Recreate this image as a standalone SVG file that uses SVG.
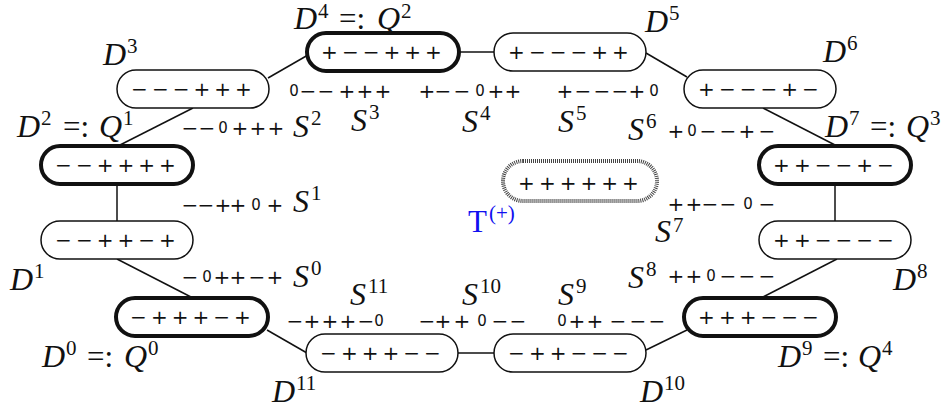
<svg xmlns="http://www.w3.org/2000/svg" width="946" height="412" viewBox="0 0 946 412">
<style>
.pill{fill:#fff;stroke:#111;stroke-width:1.5}
.bold{stroke-width:4}
.tp{fill:#fff;stroke:#444;stroke-width:4;stroke-dasharray:1 1}
.c{stroke:#111;stroke-width:1.5;fill:none}
.sg{font-family:"DejaVu Sans",sans-serif;font-size:20px;text-anchor:middle;fill:#111}
.z{font-size:15px}
.m{font-family:"Liberation Serif",serif;font-style:italic;font-size:32px;fill:#111}
.u{font-family:"Liberation Serif",serif;font-size:31px;fill:#111}
.sp{font-family:"Liberation Serif",serif;font-size:21px;fill:#111}
.blue{fill:#1010f0}
</style>
<rect width="946" height="412" fill="#fff"/>
<g id="connectors">
<line class="c" x1="117" y1="259" x2="191" y2="297"/>
<line class="c" x1="117" y1="184" x2="117" y2="221"/>
<line class="c" x1="120" y1="145" x2="193" y2="108"/>
<line class="c" x1="268" y1="78" x2="308" y2="55"/>
<line class="c" x1="459" y1="52" x2="494" y2="52"/>
<line class="c" x1="646" y1="53" x2="687" y2="77"/>
<line class="c" x1="763" y1="108" x2="835" y2="145"/>
<line class="c" x1="835" y1="186" x2="835" y2="221"/>
<line class="c" x1="837" y1="259" x2="763" y2="297"/>
<line class="c" x1="687" y1="330" x2="646" y2="350"/>
<line class="c" x1="458" y1="353" x2="494" y2="353"/>
<line class="c" x1="267" y1="330" x2="307" y2="353"/>
</g>
<g id="D0">
<rect class="pill bold" x="116" y="298" width="152" height="38" rx="19"/>
<text class="sg" x="138.5 159.3 180.1 200.9 221.7 242.5" y="324">−+++−+</text>
<text class="m" x="42" y="367">D</text><text class="sp" x="66" y="355">0</text>
<text class="u" x="87" y="367">=:</text>
<text class="m" x="124" y="367">Q</text><text class="sp" x="148" y="355">0</text>
</g>
<g id="D1">
<rect class="pill" x="41" y="221" width="152" height="38" rx="19"/>
<text class="sg" x="63.5 84.3 105.1 125.9 146.7 167.5" y="247">−−++−+</text>
<text class="m" x="10" y="290">D</text><text class="sp" x="34" y="278">1</text>
</g>
<g id="D2">
<rect class="pill bold" x="41" y="146" width="152" height="38" rx="19"/>
<text class="sg" x="63.5 84.3 105.1 125.9 146.7 167.5" y="172">−−++++</text>
<text class="m" x="17" y="137">D</text><text class="sp" x="41" y="125">2</text>
<text class="u" x="63" y="137">=:</text>
<text class="m" x="99" y="137">Q</text><text class="sp" x="123" y="125">1</text>
</g>
<g id="D3">
<rect class="pill" x="117" y="70" width="152" height="38" rx="19"/>
<text class="sg" x="139.5 160.3 181.1 201.9 222.7 243.5" y="96">−−−+++</text>
<text class="m" x="103" y="65">D</text><text class="sp" x="127" y="53">3</text>
</g>
<g id="D4">
<rect class="pill bold" x="307" y="33" width="152" height="38" rx="19"/>
<text class="sg" x="329.5 350.3 371.1 391.9 412.7 433.5" y="59">+−−+++</text>
<text class="m" x="294" y="29">D</text><text class="sp" x="318" y="18">4</text>
<text class="u" x="339" y="29">=:</text>
<text class="m" x="377" y="29">Q</text><text class="sp" x="401" y="18">2</text>
</g>
<g id="D5">
<rect class="pill" x="494" y="33" width="152" height="38" rx="19"/>
<text class="sg" x="516.5 537.3 558.1 578.9 599.7 620.5" y="59">+−−−++</text>
<text class="m" x="645" y="32">D</text><text class="sp" x="669" y="20">5</text>
</g>
<g id="D6">
<rect class="pill" x="684" y="70" width="152" height="38" rx="19"/>
<text class="sg" x="706.5 727.3 748.1 768.9 789.7 810.5" y="96">+−−−+−</text>
<text class="m" x="823" y="62">D</text><text class="sp" x="847" y="50">6</text>
</g>
<g id="D7">
<rect class="pill bold" x="759" y="146" width="152" height="38" rx="19"/>
<text class="sg" x="781.5 802.3 823.1 843.9 864.7 885.5" y="172">++−−+−</text>
<text class="m" x="825" y="137">D</text><text class="sp" x="849" y="125">7</text>
<text class="u" x="870" y="137">=:</text>
<text class="m" x="906" y="137">Q</text><text class="sp" x="930" y="125">3</text>
</g>
<g id="D8">
<rect class="pill" x="759" y="221" width="152" height="38" rx="19"/>
<text class="sg" x="781.5 802.3 823.1 843.9 864.7 885.5" y="247">++−−−−</text>
<text class="m" x="893" y="290">D</text><text class="sp" x="917" y="278">8</text>
</g>
<g id="D9">
<rect class="pill bold" x="684" y="298" width="152" height="38" rx="19"/>
<text class="sg" x="706.5 727.3 748.1 768.9 789.7 810.5" y="324">+++−−−</text>
<text class="m" x="778" y="367">D</text><text class="sp" x="802" y="355">9</text>
<text class="u" x="823" y="367">=:</text>
<text class="m" x="858" y="367">Q</text><text class="sp" x="882" y="355">4</text>
</g>
<g id="D10">
<rect class="pill" x="494" y="334" width="152" height="38" rx="19"/>
<text class="sg" x="516.5 537.3 558.1 578.9 599.7 620.5" y="360">−++−−−</text>
<text class="m" x="640" y="402">D</text><text class="sp" x="664" y="390">10</text>
</g>
<g id="D11">
<rect class="pill" x="306" y="334" width="152" height="38" rx="19"/>
<text class="sg" x="328.5 349.3 370.1 390.9 411.7 432.5" y="360">−+++−−</text>
<text class="m" x="272" y="402">D</text><text class="sp" x="296" y="390">11</text>
</g>
<g id="T">
<rect class="tp" x="503" y="161" width="154" height="40" rx="20"/>
<text class="sg" x="526.5 547.3 568.1 588.9 609.7 630.5" y="190">++++++</text>
<text class="u blue" x="468" y="232" font-size="32">T</text><text class="sp blue" x="489" y="220">(+)</text>
</g>
<g id="S-labels">
<text class="sg" y="98"><tspan class="z" x="294" y="96">0</tspan><tspan x="308" y="98">−</tspan><tspan x="326">−</tspan><tspan x="347">+</tspan><tspan x="365">+</tspan><tspan x="383">+</tspan></text>
<text class="m" x="351" y="131">S</text><text class="sp" x="369" y="119">3</text>
<text class="sg" y="98"><tspan x="427">+</tspan><tspan x="443">−</tspan><tspan x="462">−</tspan><tspan class="z" x="480" y="96">0</tspan><tspan x="496" y="98">+</tspan><tspan x="513">+</tspan></text>
<text class="m" x="462" y="132">S</text><text class="sp" x="480" y="120">4</text>
<text class="sg" y="98"><tspan x="565">+</tspan><tspan x="583">−</tspan><tspan x="602">−</tspan><tspan x="620">−</tspan><tspan x="637">+</tspan><tspan class="z" x="654" y="96">0</tspan></text>
<text class="m" x="558" y="132">S</text><text class="sp" x="576" y="120">5</text>
<text class="sg" y="135"><tspan x="190">−</tspan><tspan x="207">−</tspan><tspan class="z" x="223" y="133">0</tspan><tspan x="240" y="135">+</tspan><tspan x="258">+</tspan><tspan x="276">+</tspan></text>
<text class="m" x="293" y="137">S</text><text class="sp" x="311" y="125">2</text>
<text class="sg" y="212"><tspan x="190">−</tspan><tspan x="206">−</tspan><tspan x="223">+</tspan><tspan x="238">+</tspan><tspan class="z" x="256" y="210">0</tspan><tspan x="275" y="212">+</tspan></text>
<text class="m" x="293" y="212">S</text><text class="sp" x="311" y="200">1</text>
<text class="sg" y="284"><tspan x="190">−</tspan><tspan class="z" x="207" y="282">0</tspan><tspan x="222" y="284">+</tspan><tspan x="238">+</tspan><tspan x="257">−</tspan><tspan x="275">+</tspan></text>
<text class="m" x="293" y="287">S</text><text class="sp" x="311" y="275">0</text>
<text class="sg" y="138"><tspan x="676">+</tspan><tspan class="z" x="692" y="136">0</tspan><tspan x="708" y="138">−</tspan><tspan x="728">−</tspan><tspan x="747">+</tspan><tspan x="767">−</tspan></text>
<text class="m" x="628" y="140">S</text><text class="sp" x="646" y="128">6</text>
<text class="sg" y="211"><tspan x="676">+</tspan><tspan x="694">+</tspan><tspan x="710">−</tspan><tspan x="728">−</tspan><tspan class="z" x="748" y="209">0</tspan><tspan x="767" y="211">−</tspan></text>
<text class="m" x="655" y="242">S</text><text class="sp" x="673" y="232">7</text>
<text class="sg" y="283"><tspan x="676">+</tspan><tspan x="694">+</tspan><tspan class="z" x="711" y="281">0</tspan><tspan x="728" y="283">−</tspan><tspan x="747">−</tspan><tspan x="767">−</tspan></text>
<text class="m" x="628" y="288">S</text><text class="sp" x="646" y="276">8</text>
<text class="sg" y="328"><tspan x="295">−</tspan><tspan x="312">+</tspan><tspan x="330">+</tspan><tspan x="348">+</tspan><tspan x="366">−</tspan><tspan class="z" x="379" y="326">0</tspan></text>
<text class="m" x="350" y="305">S</text><text class="sp" x="368" y="293">11</text>
<text class="sg" y="328"><tspan x="427">−</tspan><tspan x="443">+</tspan><tspan x="462">+</tspan><tspan class="z" x="482" y="326">0</tspan><tspan x="500" y="328">−</tspan><tspan x="518">−</tspan></text>
<text class="m" x="462" y="305">S</text><text class="sp" x="480" y="293">10</text>
<text class="sg" y="328"><tspan class="z" x="562" y="326">0</tspan><tspan x="577" y="328">+</tspan><tspan x="595">+</tspan><tspan x="618">−</tspan><tspan x="638">−</tspan><tspan x="657">−</tspan></text>
<text class="m" x="558" y="305">S</text><text class="sp" x="576" y="293">9</text>
</g>
</svg>
